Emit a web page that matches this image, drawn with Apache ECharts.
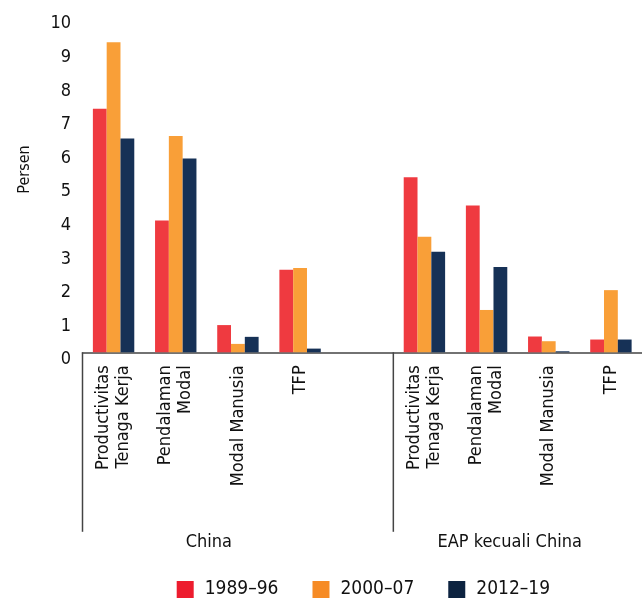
<!DOCTYPE html>
<html>
<head>
<meta charset="utf-8">
<script src="https://cdn.jsdelivr.net/npm/echarts@6/dist/echarts.min.js"></script>
<style>
  html, body { margin: 0; padding: 0; background: #fff; }
  #chart { width: 642px; height: 606px; }
</style>
</head>
<body>
<div id="chart"></div>
<script>
// Growth decomposition, percent; an empty slot separates the two regions
const categories = [
  'Productivitas\nTenaga Kerja', 'Pendalaman\nModal', 'Modal Manusia', 'TFP', '',
  'Productivitas\nTenaga Kerja', 'Pendalaman\nModal', 'Modal Manusia', 'TFP'
];
const groupNames = ['China', 'EAP kecuali China'];
const seriesNames = ['1989–96', '2000–07', '2012–19'];
const values1989 = [7.25, 3.92, 0.81, 2.46, null, 5.21, 4.37, 0.47, 0.38];
const values2000 = [9.23, 6.44, 0.25, 2.51, null, 3.44, 1.26, 0.33, 1.85];
const values2012 = [6.36, 5.77, 0.46, 0.11, null, 2.99, 2.54, 0.03, 0.38];
const yTicks = [0, 1, 2, 3, 4, 5, 6, 7, 8, 9, 10];

const FONT = '"DejaVu Sans Condensed", "DejaVu Sans", sans-serif';
const barColors = ['#EF3A40', '#F99F38', '#163156'];
const legendColors = ['#ED1C2E', '#F68B25', '#0C2340'];
const TEXT = '#111111';
const AXIS = '#444444';

const chart = echarts.init(document.getElementById('chart'), null, { renderer: 'canvas' });

function bar(name, data, i) {
  return {
    name: name,
    type: 'bar',
    data: data,
    barWidth: 13.8,
    barGap: '0%',
    itemStyle: { color: barColors[i] },
    emphasis: { disabled: true },
    animation: false
  };
}

const option = {
  animation: false,
  textStyle: { fontFamily: FONT },
  grid: { left: 82.5, top: 16.3, width: 562.5, height: 336, containLabel: false },
  xAxis: {
    type: 'category',
    data: categories,
    axisLine: { lineStyle: { color: AXIS, width: 1.5 } },
    axisTick: { show: false },
    axisLabel: {
      interval: 0,
      rotate: 90,
      margin: 13,
      fontSize: 18,
      lineHeight: 20,
      color: TEXT,
      fontFamily: FONT
    }
  },
  yAxis: {
    type: 'value',
    min: yTicks[0],
    max: yTicks[yTicks.length - 1],
    interval: 1,
    axisLine: { show: false },
    axisTick: { show: false },
    splitLine: { show: false },
    axisLabel: {
      margin: 11.5,
      fontSize: 18,
      color: TEXT,
      fontFamily: FONT,
      verticalAlign: 'top',
      lineHeight: 15
    }
  },
  legend: {
    left: 171.7,
    top: 575,
    itemWidth: 17,
    itemHeight: 17,
    itemGap: 34,
    icon: 'rect',
    selectedMode: false,
    textStyle: { fontSize: 19, color: TEXT, fontFamily: FONT, padding: [0, 0, 0, 6] },
    data: seriesNames.map((n, i) => ({ name: n, itemStyle: { color: legendColors[i] } }))
  },
  series: [
    bar(seriesNames[0], values1989, 0),
    bar(seriesNames[1], values2000, 1),
    bar(seriesNames[2], values2012, 2)
  ]
};

chart.setOption(option);

// Region separators and group captions, placed from the category scale
const xAt = i => chart.convertToPixel({ xAxisIndex: 0 }, i);
const yZero = chart.convertToPixel({ yAxisIndex: 0 }, 0);
const slot = xAt(1) - xAt(0);
const sepLeft = xAt(0) - slot / 2;
const sepMid = xAt(4) + slot / 2;
const sepBottom = yZero + 179.5;
const chinaCenter = (xAt(0) + xAt(3)) / 2 + 2;
const eapCenter = (xAt(5) + xAt(8)) / 2 - 8;

chart.setOption({
  graphic: [
    { type: 'line', shape: { x1: sepLeft, y1: yZero, x2: sepLeft, y2: sepBottom },
      style: { stroke: AXIS, lineWidth: 1.5 } },
    { type: 'line', shape: { x1: sepMid, y1: yZero, x2: sepMid, y2: sepBottom },
      style: { stroke: AXIS, lineWidth: 1.5 } },
    { type: 'text', x: chinaCenter, y: 542.5,
      style: { text: groupNames[0], font: '18px ' + FONT, fill: TEXT, align: 'center', verticalAlign: 'middle' } },
    { type: 'text', x: eapCenter, y: 542.5,
      style: { text: groupNames[1], font: '18px ' + FONT, fill: TEXT, align: 'center', verticalAlign: 'middle' } },
    { type: 'text', x: 24.5, y: 169.5, rotation: Math.PI / 2,
      style: { text: 'Persen', font: '16px ' + FONT, fill: TEXT, align: 'center', verticalAlign: 'middle' } }
  ]
});
</script>
</body>
</html>
